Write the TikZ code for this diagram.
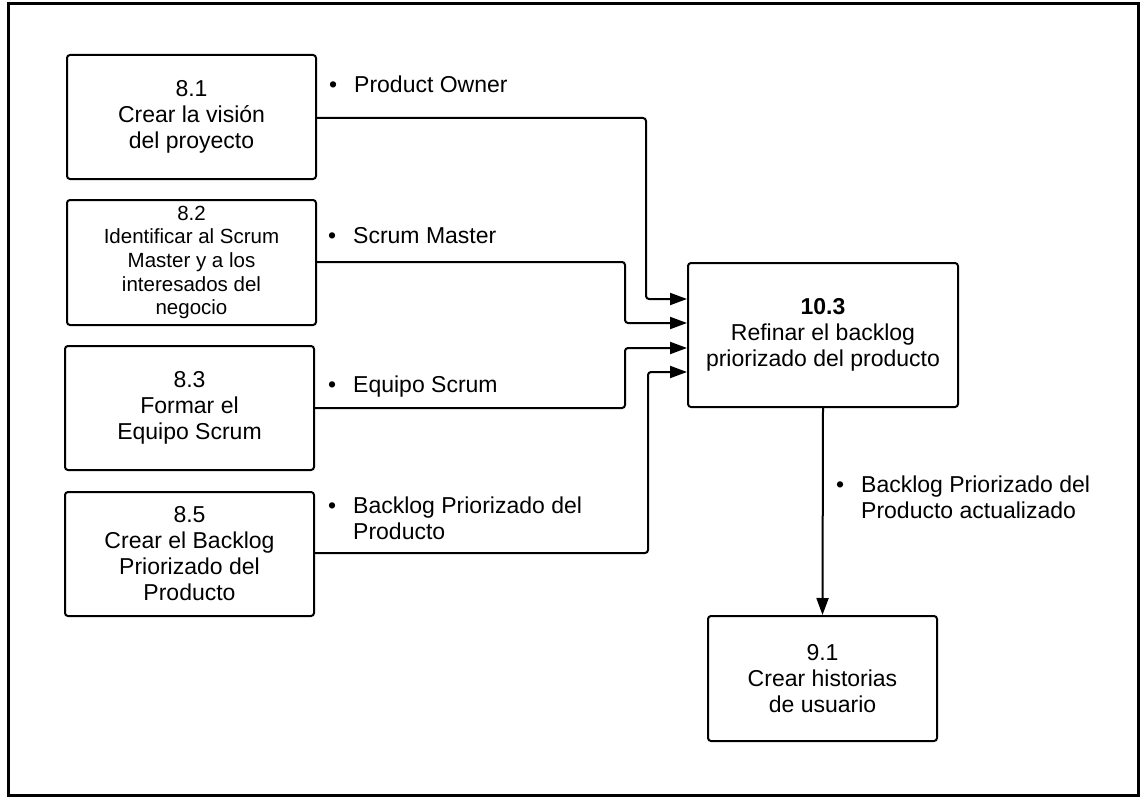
\documentclass[tikz,border=0pt]{standalone}
\usepackage{fontspec}
\setmainfont{Liberation Sans}
\usetikzlibrary{arrows.meta}
\tikzset{
  box/.style={draw, line width=2pt, rounded corners=3pt, inner sep=0pt, align=center,
    font=\fontsize{23}{26}\selectfont},
  conn/.style={line width=2pt, rounded corners=3pt, -{Triangle[length=17pt,width=12pt]}},
  lbl/.style={inner sep=0pt, anchor=base west, font=\fontsize{23}{26}\selectfont},
}
\newcommand{\bul}{\llap{•\hspace{17pt}}}
\begin{document}
\begin{tikzpicture}[x=1pt,y=-1pt]
\useasboundingbox (0,0) rectangle (1143,797);
\draw[line width=3pt] (8,4) rectangle (1138,795);

\node[box, minimum width=249pt, minimum height=124pt] (b81) at (191.5,117) {8.1\\Crear la visión\\del proyecto};
\node[box, minimum width=249pt, minimum height=125pt, font=\fontsize{20.5}{23.7}\selectfont] (b82) at (191.5,262.5) {8.2\\Identificar al Scrum\\Master y a los\\interesados del\\negocio};
\node[box, minimum width=249pt, minimum height=124pt] (b83) at (189.5,408) {8.3\\Formar el\\Equipo Scrum};
\node[box, minimum width=249pt, minimum height=124pt] (b85) at (189.5,554) {8.5\\Crear el Backlog\\Priorizado del\\Producto};
\node[box, minimum width=270pt, minimum height=144pt] (b103) at (823,335) {\textbf{10.3}\\Refinar el backlog\\priorizado del producto};
\node[box, minimum width=229pt, minimum height=125pt] (b91) at (822.5,678.5) {9.1\\Crear historias\\de usuario};

\draw[conn] (b81.east |- 0,118) -- (646,118) -- (646,299) -- (b103.west |- 0,299);
\draw[conn] (b82.east |- 0,262) -- (625,262) -- (625,323) -- (b103.west |- 0,323);
\draw[conn] (b83.east |- 0,408) -- (625,408) -- (625,348) -- (b103.west |- 0,348);
\draw[conn] (b85.east |- 0,553) -- (648,553) -- (648,372) -- (b103.west |- 0,372);
\draw[conn] (b103.south) -- (b91.north);

\node[lbl] (l1) at (354,93) {\bul Product Owner};
\node[lbl] (l2) at (353,243) {\bul Scrum Master};
\node[lbl] (l3) at (353,392) {\bul Equipo Scrum};
\node[lbl] (l4) at (353,513) {\bul\begin{tabular}[t]{@{}l@{}}Backlog Priorizado del\\Producto\end{tabular}};
\node[lbl] (l5) at (861,492) {\bul\begin{tabular}[t]{@{}l@{}}Backlog Priorizado del\\Producto actualizado\end{tabular}};
\end{tikzpicture}
\end{document}
